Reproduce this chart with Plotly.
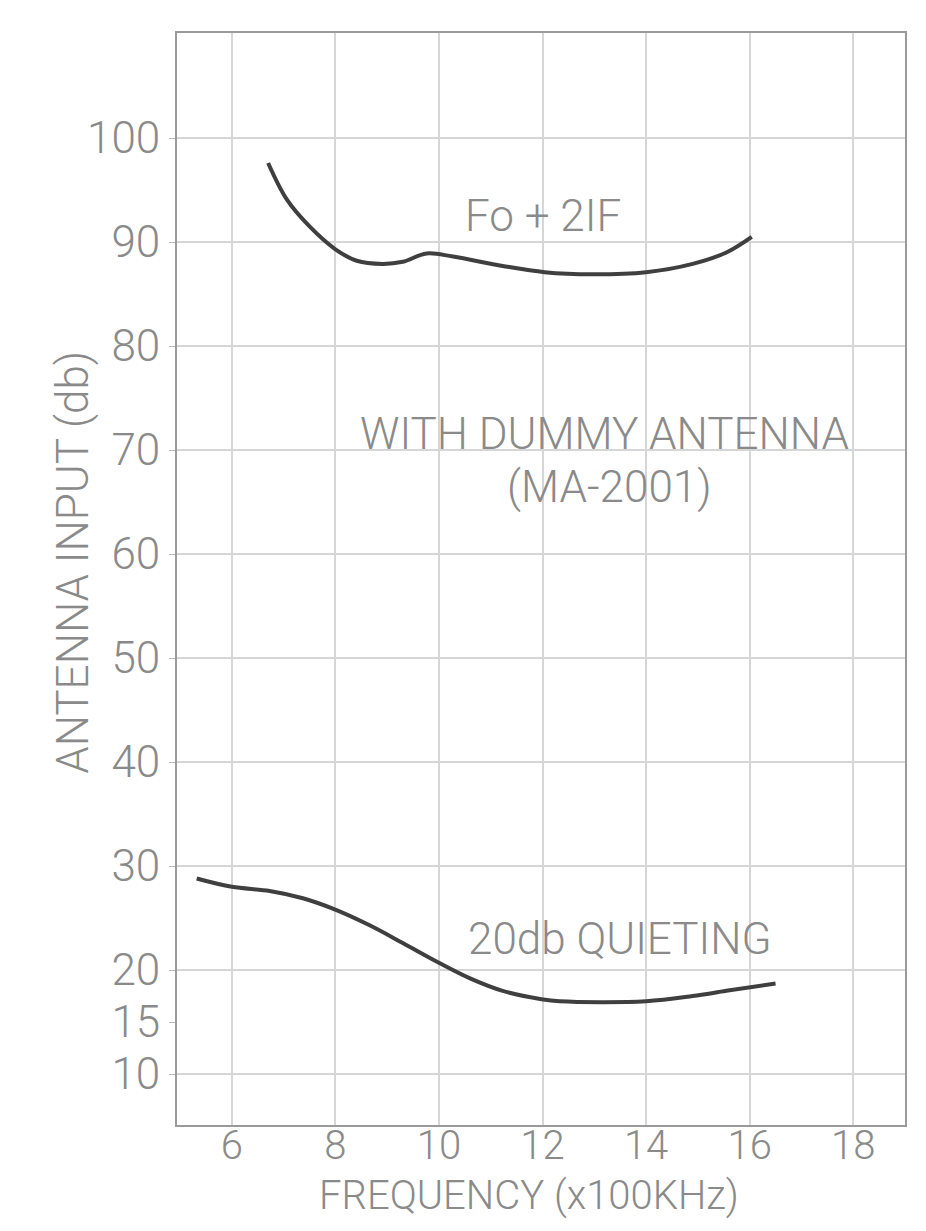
import plotly.graph_objects as go

# Fo + 2IF curve (frequency in x100 kHz, antenna input in db)
fo2if_freq = [6.7, 7.06, 7.5, 8.0, 8.41, 8.91, 9.3, 9.76, 10.27, 11.23, 12.04, 12.97, 14.0, 14.9, 15.55, 16.04]
fo2if_db = [97.6, 94.1, 91.5, 89.3, 88.2, 87.9, 88.1, 88.9, 88.6, 87.7, 87.1, 86.9, 87.1, 87.9, 89.0, 90.5]

# 20db quieting curve
quiet_freq = [5.32, 6.0, 6.73, 7.37, 7.95, 8.66, 9.3, 9.96, 10.6, 11.23, 11.98, 12.33, 14.0, 14.9, 15.55, 16.5]
quiet_db = [28.8, 28.0, 27.6, 26.9, 25.9, 24.3, 22.6, 20.8, 19.2, 18.0, 17.2, 17.0, 17.0, 17.5, 18.0, 18.7]

x_ticks = [6, 8, 10, 12, 14, 16, 18]
y_ticks = [10, 15, 20, 30, 40, 50, 60, 70, 80, 90, 100]
y_grid = [10, 20, 30, 40, 50, 60, 70, 80, 90, 100]

ink = "#8a8a8a"
curve = "#3f3f3f"
grid = "#d6d6d6"
font = dict(family="Roboto", size=44, color=ink, weight=300)

fig = go.Figure()
fig.add_trace(go.Scatter(x=fo2if_freq, y=fo2if_db, mode="lines",
                         line=dict(color=curve, width=4, shape="spline"),
                         showlegend=False, hoverinfo="skip"))
fig.add_trace(go.Scatter(x=quiet_freq, y=quiet_db, mode="lines",
                         line=dict(color=curve, width=4, shape="spline"),
                         showlegend=False, hoverinfo="skip"))

# curve labels
fig.add_annotation(x=12.0, y=92.5, text="Fo + 2IF", showarrow=False, font=font)
fig.add_annotation(x=13.2, y=71.5, text="WITH DUMMY ANTENNA", showarrow=False, font=font)
fig.add_annotation(x=13.3, y=66.4, text="(MA-2001)", showarrow=False, font=font)
fig.add_annotation(x=13.5, y=23.0, text="20db QUIETING", showarrow=False, font=font)

# axis titles
fig.add_annotation(xref="paper", yref="paper", x=0.4835, y=-0.065,
                   xanchor="center", yanchor="middle",
                   text="FREQUENCY (x100KHz)", showarrow=False,
                   font=dict(font, size=40))
fig.add_annotation(xref="paper", yref="paper", x=-0.144, y=0.515, textangle=-90,
                   xanchor="center", yanchor="middle",
                   text="ANTENNA INPUT (db)", showarrow=False, font=font)

fig.update_xaxes(range=[4.94, 19.0], tickvals=x_ticks, ticks="outside", ticklen=0,
                 ticklabelstandoff=-16,
                 tickfont=dict(font, size=40), showgrid=True, gridcolor=grid, gridwidth=1.5,
                 showline=True, linecolor="#9a9a9a", linewidth=2, mirror=True,
                 zeroline=False)
fig.update_yaxes(range=[5.1, 110.1], tickvals=y_ticks, ticks="outside", ticklen=6,
                 tickcolor="#bbbbbb", tickfont=font, showgrid=False,
                 minor=dict(tickmode="array", tickvals=y_grid, showgrid=True,
                            gridcolor=grid, gridwidth=1.5),
                 showline=True, linecolor="#9a9a9a", linewidth=2, mirror=True,
                 zeroline=False)

fig.update_layout(width=910, height=1215,
                  margin=dict(l=169, r=13, t=25, b=98),
                  plot_bgcolor="white", paper_bgcolor="white")

fig.write_html("out.html")
